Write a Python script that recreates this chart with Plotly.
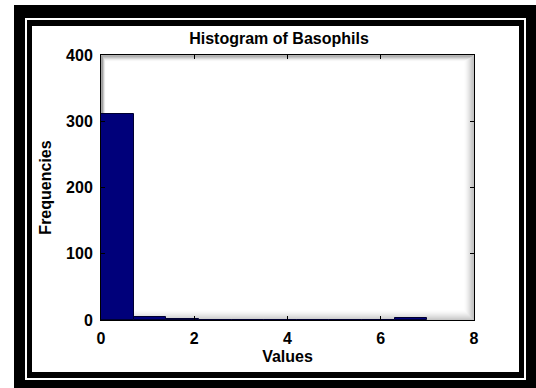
import plotly.graph_objects as go

# ---- data ----
bin_edges = [0.0, 0.7, 1.4, 2.1, 2.8, 3.5, 4.2, 4.9, 5.6, 6.3, 7.0]
counts = [311, 4, 2, 0, 0, 0, 0, 0, 0, 3]
x_ticks = [0, 2, 4, 6, 8]
y_ticks = [0, 100, 200, 300, 400]
title_text = "Histogram of Basophils"
x_label = "Values"
y_label = "Frequencies"

centers = [(a + b) / 2 for a, b in zip(bin_edges[:-1], bin_edges[1:])]
widths = [b - a for a, b in zip(bin_edges[:-1], bin_edges[1:])]

W_FIG, H_FIG = 536, 388
L, R, T, B = 101, 474, 55, 320
PW, PH = R - L, B - T


def px(x):
    return (x - L) / PW


def py(y):
    return (B - y) / PH


FONT = dict(family="Liberation Sans, Arial, sans-serif", size=16, color="black", weight="bold")

fig = go.Figure()
fig.add_trace(go.Bar(
    x=centers, y=counts, width=widths,
    marker=dict(color="#00007a", line=dict(color="#000030", width=1)),
    showlegend=False,
))

shapes = []
# window frame (black double border)
frame = [
    (14, 5, 536, 388, "black"),
    (25, 18, 526, 380, "white"),
    (27, 20, 524, 378, "black"),
    (32, 26, 519, 372, "white"),
]
for x0, y0, x1, y1, c in frame:
    shapes.append(dict(type="rect", xref="paper", yref="paper",
                       x0=px(x0), x1=px(x1), y0=py(y1), y1=py(y0),
                       fillcolor=c, line=dict(width=0), layer="below"))
# inner shadow of plot area
n = 10
for i in range(n):
    a = 0.22 * (1 - i / n) ** 1.5
    shapes.append(dict(type="rect", xref="paper", yref="paper",
                       x0=px(L + 0.5 + i * 0.4), x1=px(R - 0.5 - i),
                       y0=py(B - 0.5 - i), y1=py(T + 0.5 + i * 0.6),
                       fillcolor="rgba(0,0,0,0)",
                       line=dict(color="rgba(0,0,0,%.3f)" % a, width=1.2),
                       layer="below"))

fig.update_layout(
    width=W_FIG, height=H_FIG,
    margin=dict(l=L, r=W_FIG - R, t=T, b=H_FIG - B, pad=0),
    paper_bgcolor="white", plot_bgcolor="white",
    bargap=0,
    shapes=shapes,
    font=FONT,
    title=dict(text=title_text, x=279 / W_FIG, y=1 - 38 / H_FIG,
               xanchor="center", yanchor="middle", xref="container", yref="container",
               font=dict(family=FONT["family"], size=16, color="black", weight="bold")),
    xaxis=dict(range=[0, 8], tickvals=x_ticks, ticktext=[str(v) for v in x_ticks],
               showgrid=False, zeroline=False, showline=True, linecolor="black", linewidth=1,
               mirror="ticks", ticks="inside", ticklen=4, tickcolor="black",
               ticklabelstandoff=4,
               title=dict(text=x_label, standoff=4, font=FONT)),
    yaxis=dict(range=[0, 400], tickvals=y_ticks, ticktext=[str(v) for v in y_ticks],
               showgrid=False, zeroline=False, showline=True, linecolor="black", linewidth=1,
               mirror="ticks", ticks="inside", ticklen=4, tickcolor="black",
               ticklabelstandoff=4,
               title=dict(text=y_label, standoff=10, font=FONT)),
)

fig.write_html("out.html")
